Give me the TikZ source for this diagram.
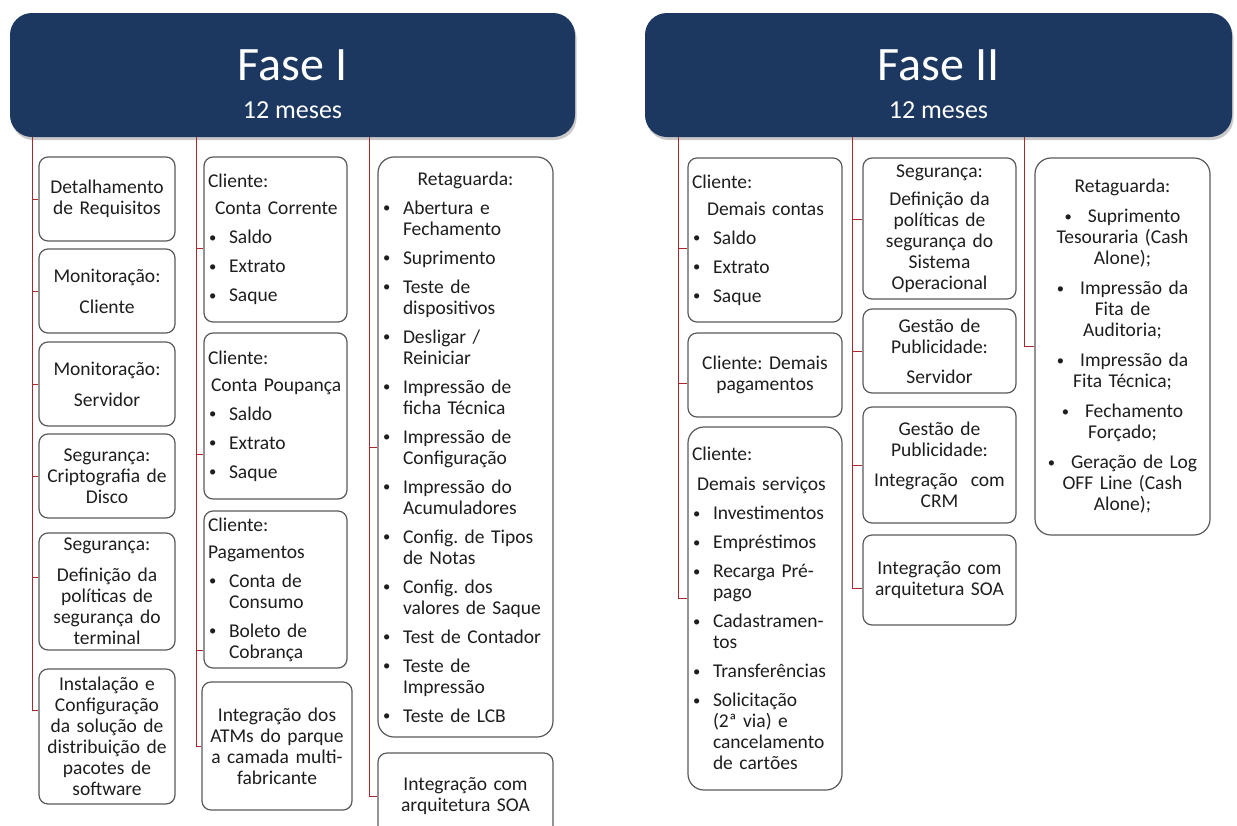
\documentclass[tikz,border=0pt]{standalone}
\usepackage{fontspec}
\usepackage{graphicx}
\setmainfont{Carlito}
\usetikzlibrary{shadows}
\definecolor{navy}{RGB}{28,56,96}
\definecolor{boxgray}{RGB}{90,90,90}
\definecolor{spinered}{RGB}{170,40,45}
\definecolor{ink}{RGB}{30,30,30}
\setlength{\parindent}{0pt}
\setlength{\parskip}{0pt}
\frenchspacing
\newcommand\bdot{\raisebox{1.5pt}{\scalebox{0.75}{•}}}
\newcommand\blt[1]{\par\vspace{8pt}\hangindent=21pt\hangafter=1\noindent\hbox to 21pt{\hskip1pt\bdot\hfil}#1\par}
\newcommand\ctrline[1]{\hbox to\hsize{\hfil #1\hfil}}

\begin{document}
\begin{tikzpicture}[x=1pt, y=1pt,
    box/.style={draw=boxgray, line width=1.2pt, rounded corners=9pt, fill=white, text=ink, inner xsep=4pt, inner ysep=1pt, font=\fontsize{19.5}{21}\selectfont},
    head/.style={fill=navy, rounded corners=22pt, drop shadow={shadow xshift=1.5pt, shadow yshift=-3pt, fill=black!35, opacity=0.6}},
    title/.style={text=white, inner sep=0pt, font=\fontsize{48}{50}\selectfont},
    subtitle/.style={text=white, inner sep=0pt, font=\fontsize{26}{28}\selectfont},
    spine/.style={draw=spinered, line width=1pt}]
    \useasboundingbox (0,0) rectangle (1237,-825);
    \fill [white] (0,0) rectangle (1237,-825);

    \node [head, minimum width=565pt, minimum height=124pt] (h1) at (292.5,-75) {};
    \node [title, anchor=base] (t1) at (292.5,-80) {Fase I};
    \node [subtitle, anchor=base] (m1) at (292.5,-118) {12 meses};
    \node [head, minimum width=587pt, minimum height=124pt] (h2) at (938.5,-75) {};
    \node [title, anchor=base] (t2) at (938.5,-80) {Fase II};
    \node [subtitle, anchor=base] (m2) at (938.5,-118) {12 meses};

    \coordinate (s1) at ([xshift=23pt]h1.south west);
    \coordinate (s2) at ([xshift=187pt]h1.south west);
    \coordinate (s3) at ([xshift=360pt]h1.south west);
    \coordinate (s4) at ([xshift=34pt]h2.south west);
    \coordinate (s5) at ([xshift=208pt]h2.south west);
    \coordinate (s6) at ([xshift=380pt]h2.south west);

    \node [box, align=center, text width=128pt, minimum height=84pt] (req) at (107,-199) {Detalhamento\\de Requisitos};
    \node [box, align=center, text width=128pt, minimum height=84pt] (monc) at (107,-291) {Monitoração:\\[10pt]Cliente};
    \node [box, align=center, text width=128pt, minimum height=84pt] (mons) at (107,-384) {Monitoração:\\[10pt]Servidor};
    \node [box, align=center, text width=128pt, minimum height=84pt] (crip) at (107,-476) {Segurança:\\Criptografia de\\Disco};
    \node [box, align=center, text width=128pt, minimum height=117pt] (defs) at (107,-591.5) {Segurança:\\[10pt]Definição da\\políticas de\\segurança do\\terminal};
    \node [box, align=center, text width=128pt, minimum height=135pt] (inst) at (107,-736.5) {Instalação e\\Configuração\\da solução de\\distribuição de\\pacotes de\\software};

    \node [box, align=left, text width=135pt, minimum height=165pt] (cc) at (275.5,-239.5) {Cliente:\\[6pt]\mbox{\hspace*{7pt}Conta Corrente}\blt{Saldo}\blt{Extrato}\blt{Saque}};
    \node [box, align=left, text width=135pt, minimum height=166pt] (cp) at (275.5,-416) {Cliente:\\[6pt]\mbox{\hspace*{3pt}Conta Poupança}\blt{Saldo}\blt{Extrato}\blt{Saque}};
    \node [box, align=left, text width=135pt, minimum height=157pt] (pag) at (275.5,-589.5) {Cliente:\\[6pt]Pagamentos\blt{Conta de\newline Consumo}\blt{Boleto de\newline Cobrança}};
    \node [box, align=center, text width=142pt, minimum height=128pt] (atm) at (277,-746) {Integração dos\\ATMs do parque\\a camada multi-\\fabricante};

    \node [box, align=left, text width=167pt, minimum height=580pt, rounded corners=16pt] (ret1) at (465.5,-447) {\ctrline{Retaguarda:}\blt{Abertura e\newline Fechamento}\blt{Suprimento}\blt{Teste de\newline dispositivos}\blt{Desligar /\newline Reiniciar}\blt{Impressão de\newline ficha Técnica}\blt{Impressão de\newline Configuração}\blt{Impressão do\newline Acumuladores}\blt{Config. de Tipos\newline de Notas}\blt{Config. dos\newline valores de Saque}\blt{Test de Contador}\blt{Teste de\newline Impressão}\blt{Teste de LCB}};
    \node [box, align=center, text width=167pt, minimum height=86pt] (soa1) at (465.5,-796) {Integração com\\arquitetura SOA};

    \node [box, align=left, text width=146pt, minimum height=164pt] (dc) at (765,-240) {Cliente:\\[6pt]\mbox{\hspace*{15pt}Demais contas}\blt{Saldo}\blt{Extrato}\blt{Saque}};
    \node [box, align=center, text width=146pt, minimum height=84pt] (dp) at (765,-375) {Cliente: Demais\\pagamentos};
    \node [box, align=left, text width=146pt, minimum height=363pt, rounded corners=16pt] (ds) at (765,-608.5) {Cliente:\\[9pt]\mbox{\hspace*{5pt}Demais serviços}\blt{Investimentos}\blt{Empréstimos}\blt{Recarga Pré-\newline pago}\blt{Cadastramen-\newline tos}\blt{Transferências}\blt{Solicitação\newline (2ª via) e\newline cancelamento\newline de cartões}};

    \node [box, align=center, text width=145pt, minimum height=141pt] (sso) at (939.5,-228.5) {Segurança:\\[7pt]Definição da\\políticas de\\segurança do\\Sistema\\Operacional};
    \node [box, align=center, text width=145pt, minimum height=84pt] (gps) at (939.5,-351) {Gestão de\\Publicidade:\\[9pt]Servidor};
    \node [box, align=center, text width=145pt, minimum height=116pt] (crm) at (939.5,-465) {Gestão de\\Publicidade:\\[9pt]Integração\ \ com\\CRM};
    \node [box, align=center, text width=145pt, minimum height=90pt] (soa2) at (939.5,-580) {Integração com\\arquitetura SOA};

    \node [box, align=center, text width=167pt, minimum height=377pt, rounded corners=16pt] (ret2) at (1122.5,-346.5) {Retaguarda:\\[9pt]\bdot\hspace{16pt}Suprimento\\Tesouraria (Cash\\Alone);\\[9pt]\bdot\hspace{16pt}Impressão da\\Fita de\\Auditoria;\\[9pt]\bdot\hspace{16pt}Impressão da\\Fita Técnica;\\[9pt]\bdot\hspace{16pt}Fechamento\\Forçado;\\[9pt]\bdot\hspace{16pt}Geração de Log\\OFF Line (Cash\\Alone);};

    \draw [spine] (s1) |- (req.west);
    \draw [spine] (s1) |- (monc.west);
    \draw [spine] (s1) |- (mons.west);
    \draw [spine] (s1) |- (crip.west);
    \draw [spine] (s1) |- ([yshift=14.5pt]defs.west);
    \draw [spine] (s1) |- ([yshift=26.5pt]inst.west);
    \draw [spine] (s2) |- ([yshift=-8.5pt]cc.west);
    \draw [spine] (s2) |- ([yshift=-38pt]cp.west);
    \draw [spine] (s2) |- ([yshift=-60.5pt]pag.west);
    \draw [spine] (s2) |- (atm.west);
    \draw [spine] (s3) |- (ret1.west);
    \draw [spine] (s3) |- (soa1.west);
    \draw [spine] (s4) |- ([yshift=-8pt]dc.west);
    \draw [spine] (s4) |- ([yshift=-8pt]dp.west);
    \draw [spine] (s4) |- ([yshift=10.5pt]ds.west);
    \draw [spine] (s5) |- ([yshift=9.5pt]sso.west);
    \draw [spine] (s5) |- (gps.west);
    \draw [spine] (s5) |- (crm.west);
    \draw [spine] (s5) |- ([yshift=-8pt]soa2.west);
    \draw [spine] (s6) |- (ret2.west);
\end{tikzpicture}
\end{document}
